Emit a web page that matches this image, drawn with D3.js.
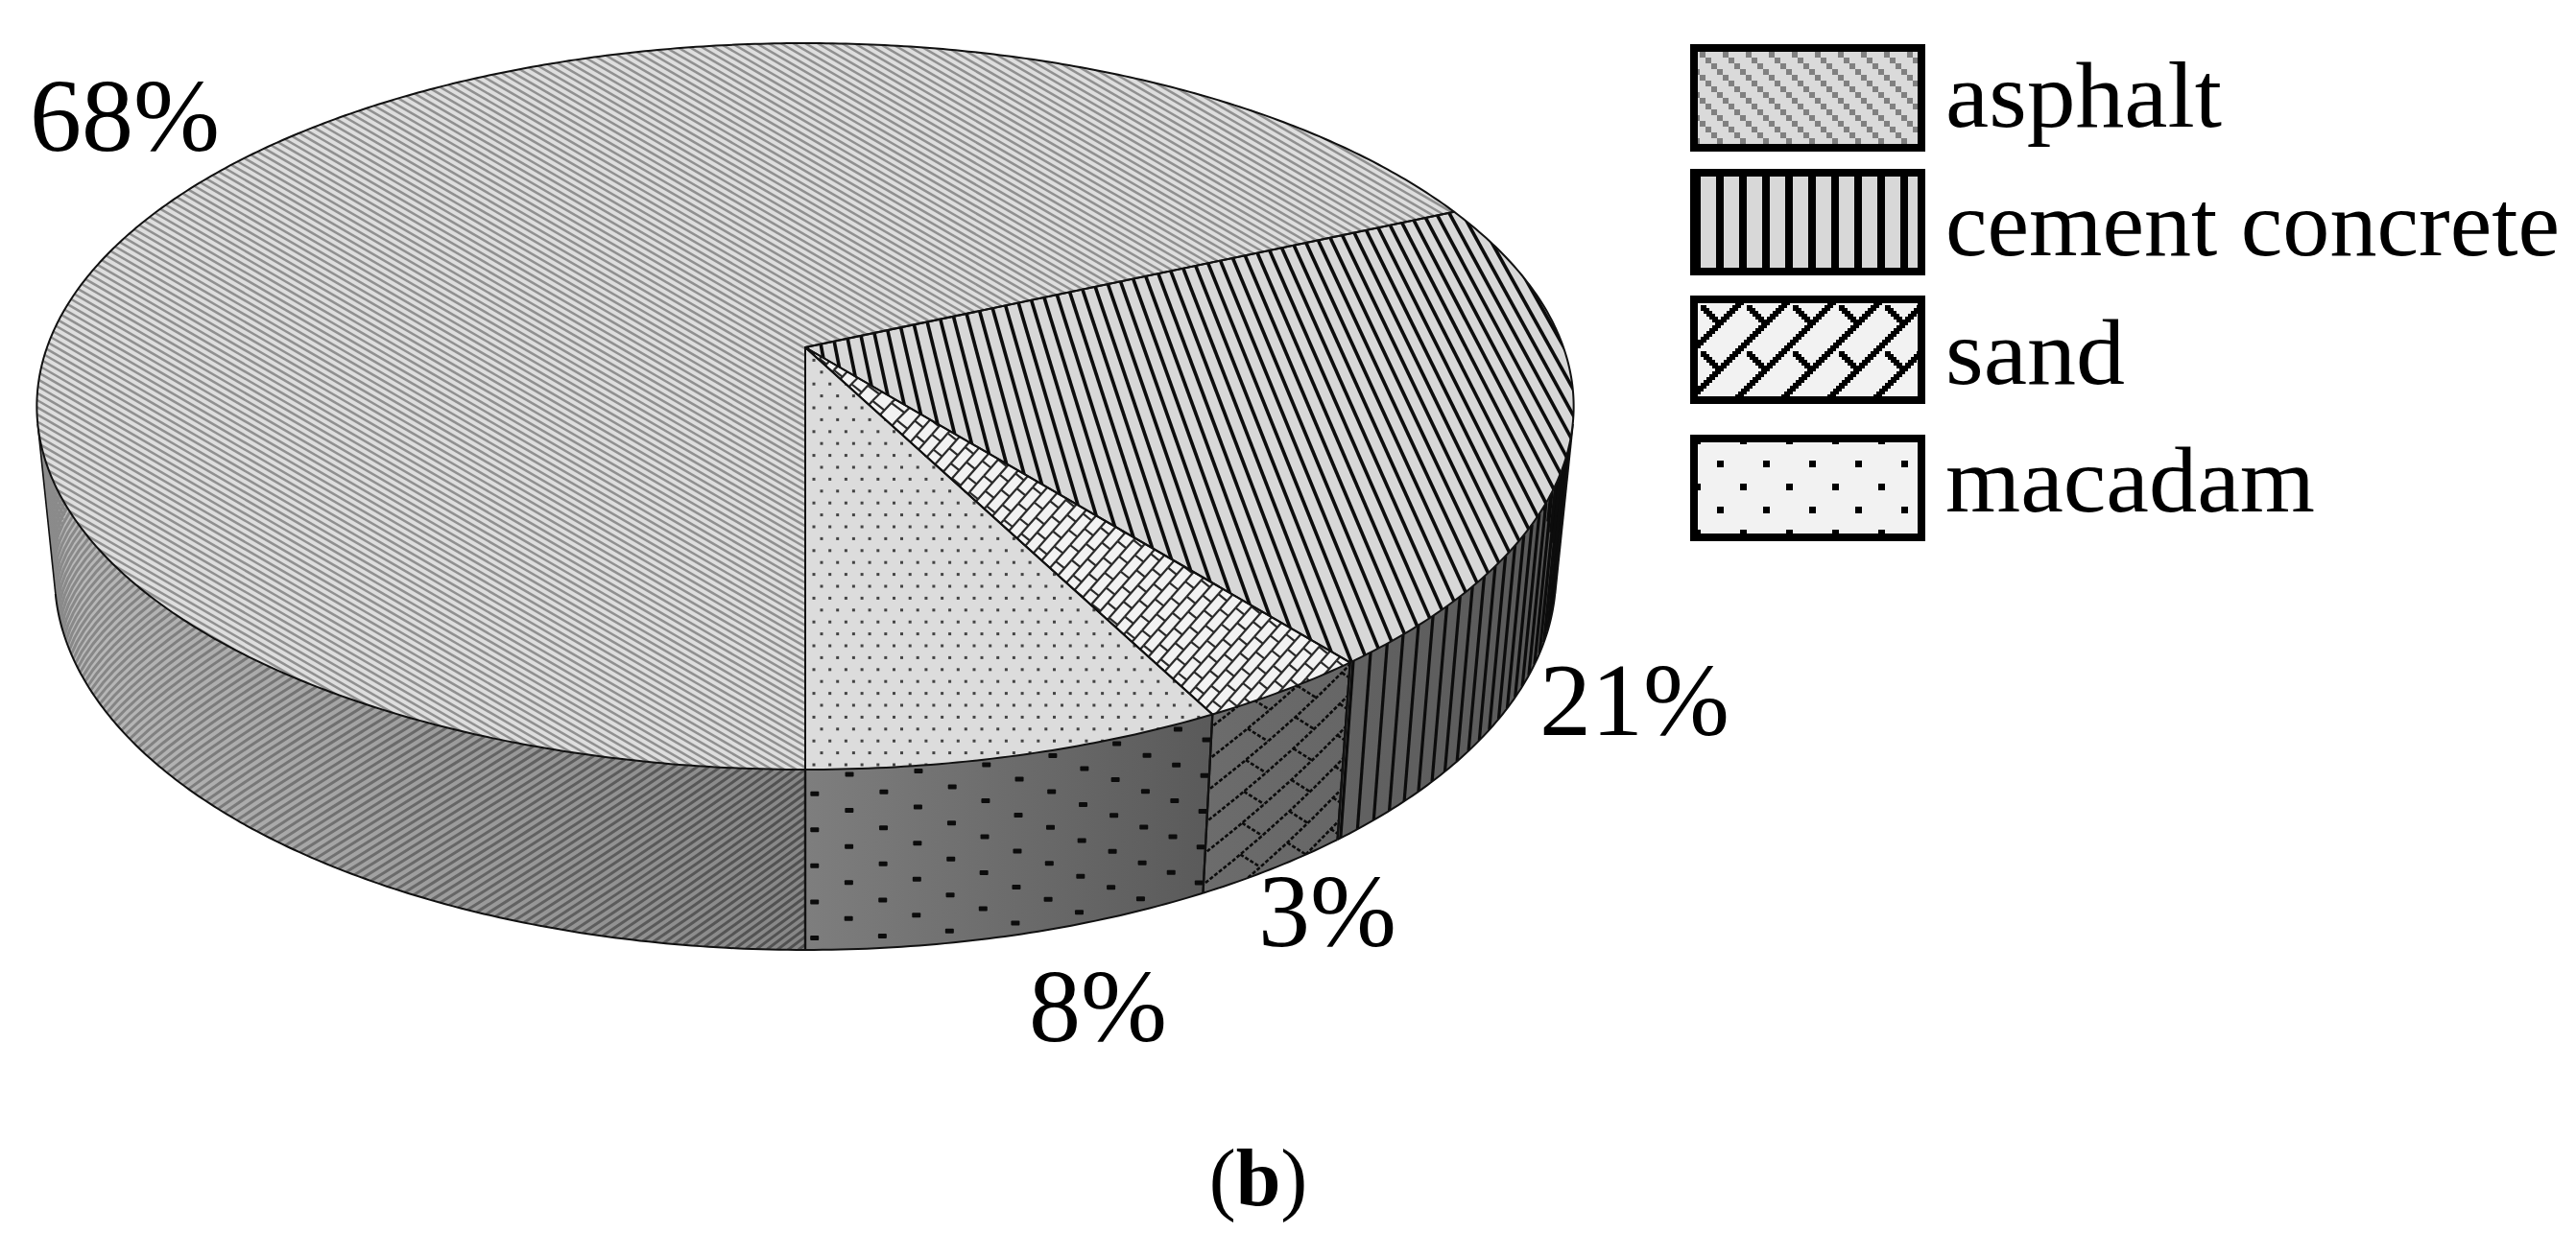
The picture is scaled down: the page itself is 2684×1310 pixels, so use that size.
<!DOCTYPE html>
<html><head><meta charset="utf-8">
<script src="https://cdn.jsdelivr.net/npm/d3@7/dist/d3.min.js"></script>
<style>html,body{margin:0;padding:0;background:#fff}svg{display:block}text{font-family:"Liberation Serif",serif;fill:#000}</style>
</head><body><svg id="c" width="2684" height="1310"></svg>
<script>
const categories=["asphalt","cement concrete","sand","macadam"];
const shares=[68.3,20.9,3.2,7.6];
const caption="b";

const W=2684,H=1310,svg=d3.select("#c"),defs=svg.append("defs");
svg.append("rect").attr("width",W).attr("height",H).attr("fill","#fff");
const cx=839,k=-0.1625;
const topDisc={A:790,B:368.5,y0:362}, botDisc={A:771.7,B:379.6,y0:536.7};
const proj=(d,a)=>{const u=Math.sin(a),v=-Math.cos(a),w=1+k*v;return [cx+d.A*u/w,d.y0+d.B*v/w];};
const T=a=>proj(topDisc,a), Bt=a=>proj(botDisc,a);
const wall=(a,h)=>{const p=T(a),q=Bt(a);return [p[0]+(q[0]-p[0])*h,p[1]+(q[1]-p[1])*h];};
const line=d3.line();
const arcs=d3.pie().sort(null).startAngle(Math.PI).endAngle(3*Math.PI)(shares);
const samples=(a0,a1,f)=>{const n=Math.max(2,Math.ceil(Math.abs(a1-a0)/0.01));return d3.range(n+1).map(i=>f(a0+(a1-a0)*i/n));};

// silhouette fold angle
let fold=Math.PI/2;
for(let t=0.2;t<Math.PI;t+=0.002){const a=Math.PI*3-t,p=T(a),p2=T(a-0.002),q=Bt(a);
  const c=(p2[0]-p[0])*(q[1]-p[1])-(p2[1]-p[1])*(q[0]-p[0]);if(c<=0){fold=t;break;}}
const visL=Math.PI+fold,visR=3*Math.PI-fold;
const wallRange=d=>{ if(d.index===0) return [Math.PI,visL]; return [Math.max(d.startAngle,visR),d.endAngle]; };
const wallPath=d=>{const [a0,a1]=wallRange(d);return line(samples(a0,a1,T).concat(samples(a1,a0,Bt)))+"Z";};
const topPath=d=>line([[cx,topDisc.y0]].concat(samples(d.startAngle,d.endAngle,T)))+"Z";

function grad(id,x1,x2,stops){const g=defs.append("linearGradient").attr("id",id).attr("gradientUnits","userSpaceOnUse").attr("x1",x1).attr("x2",x2).attr("y1",0).attr("y2",0);
  stops.forEach((c,i)=>g.append("stop").attr("offset",i/(stops.length-1)).attr("stop-color",c));}
grad("w0",38,839,["#bcbcbc","#9e9e9e","#868686"]);
grad("wl0",38,839,["#8c8c8c","#686868","#505050"]);
grad("w1",1400,1640,["#626262","#585858"]);
grad("w2",1255,1405,["#6c6c6c","#666666"]);
grad("w3",839,1260,["#7e7e7e","#5a5a5a"]);
const wallFill=["url(#w0)","url(#w1)","url(#w2)","url(#w3)"];
const topFill=["#dedede","#d8d8d8","#f2f2f2","#dcdcdc"];

arcs.forEach(d=>{
  defs.append("clipPath").attr("id","cw"+d.index).append("path").attr("d",wallPath(d));
  defs.append("clipPath").attr("id","ct"+d.index).append("path").attr("d",topPath(d));
});

/* ---------- walls ---------- */
const gw=svg.append("g");
gw.selectAll("path.w").data(arcs).join("path").attr("class","w").attr("d",wallPath).attr("fill",d=>wallFill[d.index]);

// asphalt wall texture
const gw0=gw.append("g").attr("clip-path","url(#cw0)").attr("fill","none").attr("stroke","url(#wl0)").attr("stroke-width",3);
const Rw=930,hPx=187,wslope=0.75;
d3.range(-30,190).forEach(i=>{const a0=i*11;
  const pts=d3.range(7).map(j=>{const h=j/6,s=a0+h*hPx/wslope;return wall(Math.PI+s/Rw,h);});
  gw0.append("path").attr("d",line(pts));});

// concrete wall texture
const gw1=gw.append("g").attr("clip-path","url(#cw1)").attr("stroke","#0c0c0c").attr("stroke-width",3.2);
const a1End=arcs[1].endAngle;
d3.range(0,44).forEach(i=>{const a=a1End-0.3/180*Math.PI-i*1.66*Math.PI/180;
  const p=T(a),q=Bt(a);gw1.append("line").attr("x1",p[0]).attr("y1",p[1]).attr("x2",q[0]).attr("y2",q[1]);});

// sand wall texture
const gw2=gw.append("g").attr("clip-path","url(#cw2)").attr("fill","none").attr("stroke","#0c0c0c").attr("stroke-width",2.6).attr("stroke-dasharray","4 2");
const sandEnd=arcs[2].endAngle,Rs=764;
const sw=(s,hp)=>wall(sandEnd-s/Rs,hp/hPx);
d3.range(-3,14).forEach(m=>{const c=13+33*m;
  gw2.append("path").attr("d",line(d3.range(8).map(i=>{const s=i*30-30;return sw(s,c-0.5*s);})));
  [38,91,144].forEach(s=>{const hs=c-0.5*s;gw2.append("path").attr("d",line([sw(s,hs),sw(s+23,hs+21)]));});
});

// macadam wall texture
const gw3=gw.append("g").attr("clip-path","url(#cw3)").attr("fill","#0c0c0c");
d3.range(13).forEach(j=>{const th=(0.6+2.2*j)*Math.PI/180,a=3*Math.PI-th;
  d3.range(6).forEach(i=>{const h=(j%2?0.03:0.134)+0.2*i,p=wall(a,h);
    gw3.append("rect").attr("x",p[0]-4.5).attr("y",p[1]-2.5).attr("width",9).attr("height",5).attr("rx",1);});});

// wall edges
arcs.forEach(d=>{const [a0,a1]=wallRange(d);
  gw.append("path").attr("d",line(samples(a0,a1,Bt))).attr("fill","none").attr("stroke","#111").attr("stroke-width",2);
  [a0,a1].forEach(a=>{const p=T(a),q=Bt(a);gw.append("line").attr("x1",p[0]).attr("y1",p[1]).attr("x2",q[0]).attr("y2",q[1]).attr("stroke","#111").attr("stroke-width",d.index===0&&a===a1?1.6:2.2);});
});

/* ---------- top face ---------- */
const gt=svg.append("g");
gt.selectAll("path.t").data(arcs).join("path").attr("class","t").attr("d",topPath).attr("fill",d=>topFill[d.index]);

// asphalt stripes
const gt0=gt.append("g").attr("clip-path","url(#ct0)").attr("stroke","#909090").attr("stroke-width",2.5);
d3.range(-1300,900,7.4).forEach(c=>gt0.append("line").attr("x1",0).attr("y1",c).attr("x2",1700).attr("y2",c+1700*0.58));

// concrete stripes converge on a vanishing point
const V=[469,-1700];
const gt1=gt.append("g").attr("clip-path","url(#ct1)").attr("stroke","#0c0c0c").attr("stroke-width",3.6);
d3.range(0,110).forEach(i=>{const x0=520+i*14.6,
  xAt=y=>V[0]+(x0-V[0])*(y-V[1])/(362-V[1]);
  gt1.append("line").attr("x1",xAt(150)).attr("y1",150).attr("x2",xAt(800)).attr("y2",800);});

// sand bricks
const gt2=gt.append("g").attr("clip-path","url(#ct2)").attr("fill","none").attr("stroke","#2a2a2a").attr("stroke-width",2.2);
const Dv=[-15,17],Sv=[9,7.2],apex=[cx,topDisc.y0],R0=130;
const warp=p=>{const dx=p[0]-apex[0],dy=p[1]-apex[1],r=Math.hypot(dx,dy),f=r<R0?0.45+0.55*r/R0:1;return [apex[0]+dx*f,apex[1]+dy*f];};
const inBox=p=>p[0]>800&&p[0]<1450&&p[1]>330&&p[1]<780;
const O=[1265,746];
d3.range(-90,30).forEach(j=>{d3.range(-50,50).forEach(i=>{
  const P=(ii)=>[O[0]+j*Sv[0]+(ii+(j&1)/2)*Dv[0],O[1]+j*Sv[1]+(ii+(j&1)/2)*Dv[1]];
  const p=P(i),q=P(i+1),s=[p[0]+Sv[0],p[1]+Sv[1]];
  if(inBox(p)||inBox(q)){gt2.append("path").attr("d",line([warp(p),warp(q)]));gt2.append("path").attr("d",line([warp(p),warp(s)]));}
});});

// macadam dots
const gt3=gt.append("g").attr("clip-path","url(#ct3)").attr("fill","#444");
d3.range(0,36).forEach(r=>{const y=797-12.4*r;
  d3.range(0,28).forEach(i=>{const x=(r%2?856:848)+i*16.7;
    gt3.append("rect").attr("x",x-1.5).attr("y",y-1.5).attr("width",3).attr("height",3);});});

// top outlines
gt.selectAll("path.o").data(arcs).join("path").attr("class","o").attr("d",topPath).attr("fill","none").attr("stroke","#111").attr("stroke-width",2).attr("stroke-linejoin","round");

/* ---------- legend ---------- */
const boxY=[46,176,308,453],boxH=[112,111,113,111],boxX=1761,boxW=245;
function pat(id,x,y,size,bg,fn){const p=defs.append("pattern").attr("id",id).attr("patternUnits","userSpaceOnUse").attr("x",x).attr("y",y).attr("width",size).attr("height",size);
  p.append("rect").attr("width",size).attr("height",size).attr("fill",bg);fn(p);}
const cell=(p,x,y,w,h,c)=>p.append("rect").attr("x",x).attr("y",y).attr("width",w).attr("height",h).attr("fill",c).attr("shape-rendering","crispEdges");
pat("l0",1771,54,24,"#dadada",p=>d3.range(4).forEach(r=>cell(p,r*6,r*6,6,6,"#808080")));
pat("l1",1788,176,24,"#d8d8d8",p=>cell(p,0,0,8,24,"#000"));
pat("l2",1763,318,48,"#f2f2f2",p=>{
  d3.range(-2,18).forEach(r=>{const x=42-r*3;cell(p,x,r*3,6,6,"#000");cell(p,x+48,r*3,6,6,"#000");cell(p,x-48,r*3,6,6,"#000");});
  d3.range(6).forEach(r=>cell(p,9+r*3,r*3,6,6,"#000"));
});
pat("l3",1789,480,48,"#f2f2f2",p=>{cell(p,0,0,7,7,"#000");cell(p,24,24,7,7,"#000");});
const lg=svg.append("g");
categories.forEach((c,i)=>{
  lg.append("rect").attr("x",boxX+4).attr("y",boxY[i]+4).attr("width",boxW-8).attr("height",boxH[i]-8).attr("fill",`url(#l${i})`).attr("stroke","#000").attr("stroke-width",8).attr("shape-rendering","crispEdges");
});
const legendBase=[132,266,400,533],legendLen=[288,640,187,385];
lg.selectAll("text").data(categories).join("text").attr("x",2027).attr("y",(d,i)=>legendBase[i]).attr("font-size",98).attr("textLength",(d,i)=>legendLen[i]).attr("lengthAdjust","spacingAndGlyphs").text(d=>d);

/* ---------- value labels ---------- */
const labelX=[31,1604,1311,1072],labelY=[157,766,986,1085];
svg.append("g").selectAll("text").data(shares).join("text").attr("x",(d,i)=>labelX[i]).attr("y",(d,i)=>labelY[i]).attr("font-size",108).text(d=>Math.round(d)+"%");

const cap=svg.append("text").attr("x",1311).attr("y",1256).attr("text-anchor","middle").attr("font-size",84);
cap.append("tspan").text("(");cap.append("tspan").attr("font-weight","bold").text(caption);cap.append("tspan").text(")");
</script></body></html>
